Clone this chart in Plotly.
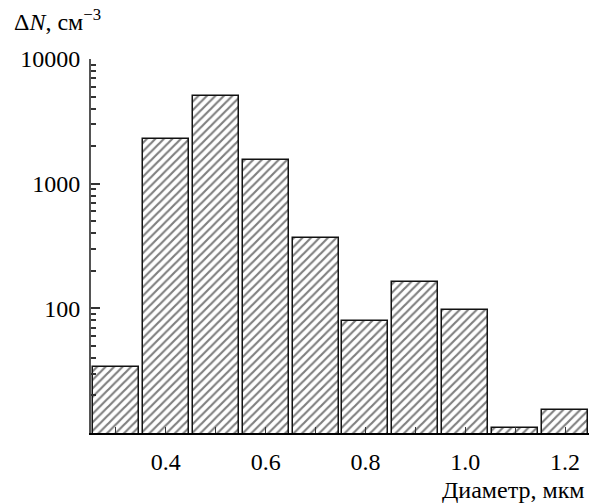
import plotly.graph_objects as go

diameters = [0.3, 0.4, 0.5, 0.6, 0.7, 0.8, 0.9, 1.0, 1.1, 1.2]
counts = [34, 2290, 5020, 1535, 367, 79, 164, 97, 10.9, 15.2]
ytick_vals = [100, 1000, 10000]
ytick_text = ["100", "1000", "10000"]
xtick_vals = [0.4, 0.6, 0.8, 1.0, 1.2]
xtick_text = ["0.4", "0.6", "0.8", "1.0", "1.2"]

FONT = "Liberation Serif, Times New Roman, serif"
FS = 24

fig = go.Figure()
fig.add_trace(go.Bar(
    x=diameters, y=counts, width=0.092,
    marker=dict(color="white", line=dict(color="#111", width=1.5),
                pattern=dict(shape="/", size=6, solidity=0.36, fgcolor="black", bgcolor="white")),
))

fig.update_layout(
    width=589, height=504,
    margin=dict(l=91, r=0, t=59, b=71),
    paper_bgcolor="white", plot_bgcolor="white",
    showlegend=False, bargap=0,
    font=dict(family=FONT, size=FS, color="black"),
    xaxis=dict(range=[0.25, 1.248], tickvals=xtick_vals, ticktext=xtick_text,
               showgrid=False, zeroline=False, showline=True, linecolor="black", linewidth=2,
               ticks="inside", ticklen=6, tickwidth=1, tickcolor="#333",
               tickfont=dict(family=FONT, size=FS), ticklabelstandoff=6, layer="above traces",
               minor=dict(tickvals=diameters, ticks="inside", ticklen=6, tickwidth=1, tickcolor="#333")),
    yaxis=dict(type="log", range=[1, 4], tickvals=ytick_vals, ticktext=ytick_text,
               showgrid=False, zeroline=False, showline=True, linecolor="#555", linewidth=2,
               ticks="inside", ticklen=9, tickwidth=1.5, tickcolor="#333",
               tickfont=dict(family=FONT, size=FS), ticklabelstandoff=4,
               minor=dict(ticks="inside", ticklen=5, tickwidth=1.5, tickcolor="#333", dtick="D1")),
    annotations=[
        dict(text="Δ<i>N</i>, см<sup>−3</sup>", x=0, y=1, xref="paper", yref="paper",
             xshift=-79, yshift=39, xanchor="left", yanchor="middle", showarrow=False,
             font=dict(family=FONT, size=FS)),
        dict(text="Диаметр, мкм", x=1, y=0, xref="paper", yref="paper",
             xshift=-2, yshift=-57, xanchor="right", yanchor="middle", showarrow=False,
             font=dict(family=FONT, size=FS)),
    ],
)
fig.write_html("out.html", config={"displayModeBar": False},
               post_script="document.body.style.margin='0';document.body.style.overflow='hidden';")
